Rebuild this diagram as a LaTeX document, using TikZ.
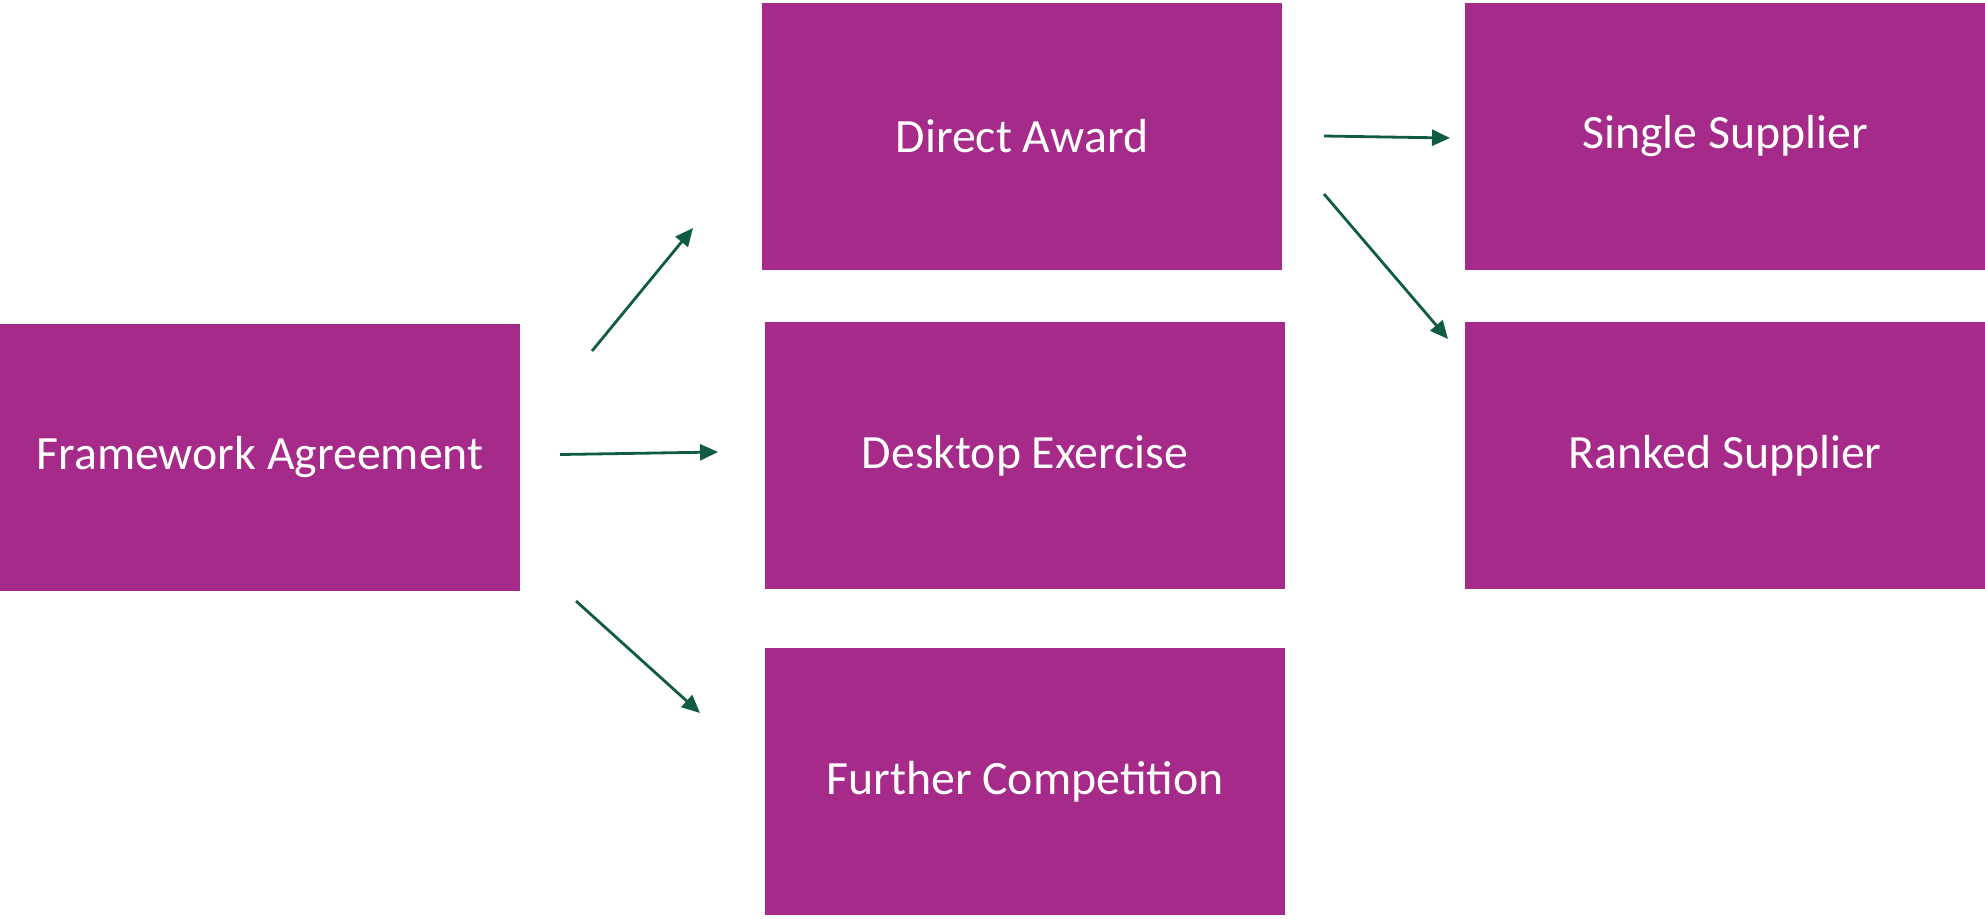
\documentclass[tikz,border=0pt]{standalone}
\usepackage{fontspec}
\setmainfont{Carlito}
\usepackage{xcolor}
\usepackage{tikz}
\usetikzlibrary{arrows.meta}

\definecolor{boxpurple}{RGB}{166,42,138}
\definecolor{arrowgreen}{RGB}{15,91,69}

\begin{document}
\begin{tikzpicture}[x=0.5pt,y=-0.5pt,
    box/.style={fill=boxpurple,text=white,minimum width=260pt,minimum height=133.5pt,
                inner sep=0pt,font=\fontsize{23.9}{28}\selectfont},
    arr/.style={-{Triangle[length=9pt,width=8pt]},line width=1.4pt,arrowgreen}]
\useasboundingbox (0,0) rectangle (1985,918);

% Boxes
\node[box] (fa) at (260,457) {Framework Agreement};
\node[box] (da) at (1022,136.5) {Direct Award};
\node[box] (de) at (1025,455.5) {Desktop Exercise};
\node[box] (fc) at (1025,781.5) {Further Competition};
\node[box] (ss) at (1725,136.5) {Single Supplier};
\node[box] (rs) at (1725,455.5) {Ranked Supplier};

% Arrow ends
\coordinate (fa-da-s) at (592,351);
\coordinate (fa-da-e) at (693,228);
\coordinate (fa-de-s) at (560,454.5);
\coordinate (fa-de-e) at (718,452);
\coordinate (fa-fc-s) at (576,601);
\coordinate (fa-fc-e) at (700,713);
\coordinate (da-ss-s) at (1324,136);
\coordinate (da-ss-e) at (1450,138);
\coordinate (da-rs-s) at (1324,194);
\coordinate (da-rs-e) at (1448,339);

% Arrows
\draw[arr] (fa-da-s) -- (fa-da-e);
\draw[arr] (fa-de-s) -- (fa-de-e);
\draw[arr] (fa-fc-s) -- (fa-fc-e);
\draw[arr] (da-ss-s) -- (da-ss-e);
\draw[arr] (da-rs-s) -- (da-rs-e);
\end{tikzpicture}
\end{document}
